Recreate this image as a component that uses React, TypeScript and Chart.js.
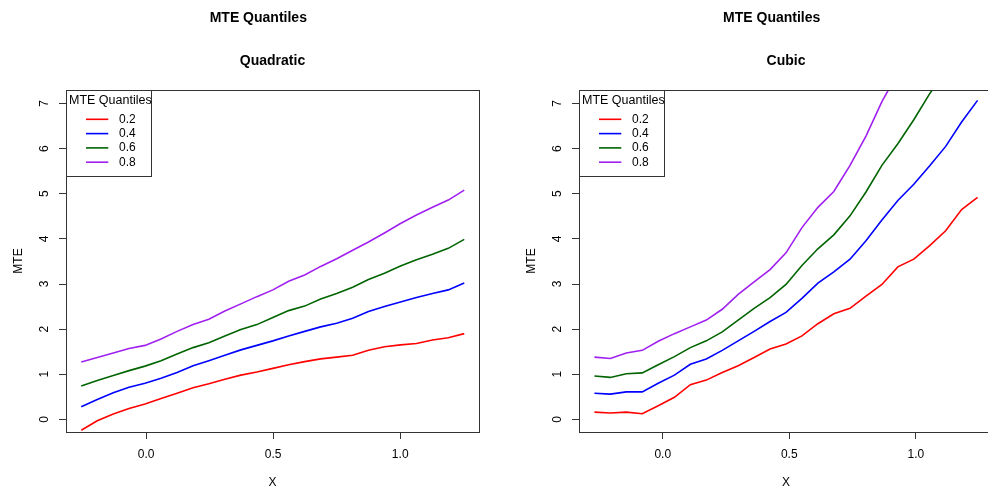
import React, { useEffect, useRef } from "react";
import { Chart, registerables } from "chart.js";

Chart.register(...registerables);

const FONT = '"Liberation Sans", Arial, Helvetica, sans-serif';

const mainTitle = "MTE Quantiles";
const legendTitle = "MTE Quantiles";
const panelTitles = ["Quadratic", "Cubic"];
const xAxisTitle = "X";
const yAxisTitle = "MTE";

const quantileLabels = ["0.2", "0.4", "0.6", "0.8"];
const seriesColors = ["#FF0000", "#0000FF", "#006400", "#A020F0"];

const xTickValues = [0, 0.5, 1.0];
const yTickValues = [0, 1, 2, 3, 4, 5, 6, 7];

// Quadratic panel
const xQuadratic = [
  -0.255, -0.192, -0.129, -0.067, -0.004, 0.059, 0.122, 0.185, 0.247, 0.31,
  0.373, 0.436, 0.499, 0.561, 0.624, 0.687, 0.75, 0.813, 0.875, 0.938, 1.001,
  1.064, 1.127, 1.189, 1.252,
];
const quadratic02 = [
  -0.24, -0.03, 0.12, 0.24, 0.34, 0.46, 0.58, 0.7, 0.79, 0.89, 0.98, 1.05,
  1.13, 1.21, 1.28, 1.34, 1.38, 1.42, 1.53, 1.61, 1.65, 1.68, 1.76, 1.81, 1.9,
];
const quadratic04 = [
  0.28, 0.44, 0.59, 0.71, 0.8, 0.91, 1.04, 1.19, 1.3, 1.42, 1.54, 1.64, 1.74,
  1.85, 1.95, 2.05, 2.13, 2.24, 2.39, 2.5, 2.6, 2.7, 2.79, 2.87, 3.02,
];
const quadratic06 = [
  0.74, 0.86, 0.97, 1.08, 1.18, 1.3, 1.45, 1.59, 1.7, 1.85, 1.99, 2.1, 2.26,
  2.41, 2.51, 2.67, 2.79, 2.93, 3.1, 3.24, 3.4, 3.54, 3.66, 3.79, 3.99,
];
const quadratic08 = [
  1.27, 1.37, 1.47, 1.57, 1.64, 1.78, 1.95, 2.1, 2.22, 2.4, 2.56, 2.72, 2.87,
  3.06, 3.2, 3.39, 3.56, 3.75, 3.93, 4.13, 4.34, 4.53, 4.7, 4.86, 5.08,
];

// Cubic panel
const xCubic = [
  -0.27, -0.207, -0.144, -0.081, -0.018, 0.046, 0.109, 0.172, 0.235, 0.298,
  0.361, 0.424, 0.487, 0.55, 0.613, 0.676, 0.74, 0.803, 0.866, 0.929, 0.992,
  1.055, 1.118, 1.181, 1.244,
];
const cubic02 = [
  0.16, 0.14, 0.16, 0.125, 0.3, 0.49, 0.77, 0.87, 1.04, 1.19, 1.37, 1.56, 1.67,
  1.85, 2.12, 2.34, 2.46, 2.73, 2.99, 3.38, 3.55, 3.85, 4.18, 4.65, 4.92,
];
const cubic04 = [
  0.58, 0.56, 0.61, 0.61, 0.8, 0.98, 1.22, 1.34, 1.53, 1.74, 1.95, 2.17, 2.37,
  2.68, 3.02, 3.27, 3.55, 3.96, 4.42, 4.85, 5.21, 5.62, 6.05, 6.59, 7.07,
];
const cubic06 = [
  0.96, 0.93, 1.01, 1.03, 1.21, 1.39, 1.59, 1.74, 1.94, 2.2, 2.46, 2.7, 2.99,
  3.41, 3.78, 4.09, 4.51, 5.04, 5.63, 6.11, 6.64, 7.22, 7.72, 8.3, 8.85,
];
const cubic08 = [
  1.38, 1.35, 1.47, 1.53, 1.73, 1.9, 2.05, 2.2, 2.44, 2.77, 3.05, 3.32, 3.69,
  4.25, 4.7, 5.05, 5.63, 6.28, 7.04, 7.68, 8.4, 9.1, 9.8, 10.5, 11.2,
];

const AXIS_COLOR = "#333333";

const boxPlugin = {
  id: "plotBox",
  afterDraw(chart: any) {
    const { ctx, chartArea } = chart;
    ctx.save();
    ctx.strokeStyle = AXIS_COLOR;
    ctx.lineWidth = 1;
    ctx.strokeRect(
      Math.round(chartArea.left) + 0.5,
      Math.round(chartArea.top) + 0.5,
      Math.round(chartArea.right - chartArea.left),
      Math.round(chartArea.bottom - chartArea.top)
    );
    ctx.restore();
  },
};

const legendPlugin = {
  id: "insideLegend",
  afterDatasetsDraw(chart: any) {
    const { ctx, chartArea } = chart;
    const L = Math.round(chartArea.left);
    const T = Math.round(chartArea.top);
    ctx.save();
    ctx.fillStyle = "#ffffff";
    ctx.fillRect(L, T, 85, 86);
    ctx.strokeStyle = AXIS_COLOR;
    ctx.lineWidth = 1;
    ctx.strokeRect(L + 0.5, T + 0.5, 85, 86);
    ctx.fillStyle = "#000000";
    ctx.textAlign = "left";
    ctx.textBaseline = "middle";
    ctx.font = `12.5px ${FONT}`;
    ctx.fillText(legendTitle, L + 3, T + 11);
    ctx.font = `12px ${FONT}`;
    chart.data.datasets.forEach((ds: any, i: number) => {
      const y = T + 29.3 + i * 14.3;
      ctx.strokeStyle = ds.borderColor;
      ctx.lineWidth = 1.6;
      ctx.beginPath();
      ctx.moveTo(L + 20, y);
      ctx.lineTo(L + 42.3, y);
      ctx.stroke();
      ctx.fillStyle = "#000000";
      ctx.fillText(ds.label, L + 53, y);
    });
    ctx.restore();
  },
};

function makeConfig(
  subtitle: string,
  xs: number[],
  series: number[][],
  xMin: number,
  xMax: number,
  padLeft: number,
  padRight: number,
  yAxisWidth: number
): any {
  return {
    type: "line",
    data: {
      datasets: series.map((vals, i) => ({
        label: quantileLabels[i],
        data: xs.map((x, j) => ({ x, y: vals[j] })),
        borderColor: seriesColors[i],
        backgroundColor: seriesColors[i],
        borderWidth: 1.6,
        pointRadius: 0,
        tension: 0,
        fill: false,
        clip: 0,
      })),
    },
    plugins: [boxPlugin, legendPlugin],
    options: {
      responsive: false,
      animation: false,
      devicePixelRatio: 1,
      events: [],
      layout: { padding: { left: padLeft, right: padRight, top: 0, bottom: 0 } },
      plugins: {
        legend: { display: false },
        tooltip: { enabled: false },
        title: {
          display: true,
          text: mainTitle,
          fullSize: true,
          color: "#000",
          font: { family: FONT, size: 14, weight: "bold" },
          padding: { top: 9.6, bottom: 10 },
        },
        subtitle: {
          display: true,
          text: subtitle,
          fullSize: false,
          color: "#000",
          font: { family: FONT, size: 14, weight: "bold" },
          padding: { top: 16.2, bottom: 20.6 },
        },
      },
      scales: {
        x: {
          type: "linear",
          min: xMin,
          max: xMax,
          afterBuildTicks: (s: any) => {
            s.ticks = xTickValues.map((v) => ({ value: v }));
          },
          afterFit: (s: any) => {
            s.height = 61;
          },
          ticks: {
            autoSkip: false,
            maxRotation: 0,
            color: "#000",
            padding: 8.5,
            font: { family: FONT, size: 12 },
            callback: (v: any) => Number(v).toFixed(1),
          },
          grid: {
            display: true,
            drawOnChartArea: false,
            drawTicks: true,
            tickLength: 7,
            color: AXIS_COLOR,
          },
          border: { display: true, color: AXIS_COLOR },
          title: {
            display: true,
            text: xAxisTitle,
            color: "#000",
            font: { family: FONT, size: 12 },
            padding: { top: 0, bottom: 3.3 },
          },
        },
        y: {
          type: "linear",
          min: -0.28,
          max: 7.3,
          afterBuildTicks: (s: any) => {
            s.ticks = yTickValues.map((v) => ({ value: v }));
          },
          afterFit: (s: any) => {
            s.width = yAxisWidth;
          },
          ticks: {
            autoSkip: false,
            minRotation: 90,
            maxRotation: 90,
            crossAlign: "center",
            color: "#000",
            padding: 11.2,
            font: { family: FONT, size: 12 },
            callback: (v: any) => String(v),
          },
          grid: {
            display: true,
            drawOnChartArea: false,
            drawTicks: true,
            tickLength: 7,
            color: AXIS_COLOR,
          },
          border: { display: true, color: AXIS_COLOR },
          title: {
            display: true,
            text: yAxisTitle,
            color: "#000",
            font: { family: FONT, size: 12 },
            padding: { top: -25.7, bottom: 0 },
          },
        },
      },
    },
  };
}

export default function App() {
  const leftRef = useRef<HTMLCanvasElement>(null);
  const rightRef = useRef<HTMLCanvasElement>(null);

  useEffect(() => {
    const left = new Chart(
      leftRef.current as HTMLCanvasElement,
      makeConfig(
        panelTitles[0],
        xQuadratic,
        [quadratic02, quadratic04, quadratic06, quadratic08],
        -0.315,
        1.31,
        37.6,
        15,
        28.4
      )
    );
    const right = new Chart(
      rightRef.current as HTMLCanvasElement,
      makeConfig(
        panelTitles[1],
        xCubic,
        [cubic02, cubic04, cubic06, cubic08],
        -0.331,
        1.305,
        56.4,
        21,
        28.6
      )
    );
    return () => {
      left.destroy();
      right.destroy();
    };
  }, []);

  return (
    <div
      style={{
        position: "fixed",
        left: 0,
        top: 0,
        width: 988,
        height: 493,
        overflow: "hidden",
        background: "#ffffff",
      }}
    >
      <canvas
        ref={leftRef}
        width={494}
        height={493}
        style={{ position: "absolute", left: 0, top: 0 }}
      />
      <canvas
        ref={rightRef}
        width={520}
        height={493}
        style={{ position: "absolute", left: 494, top: 0 }}
      />
    </div>
  );
}
